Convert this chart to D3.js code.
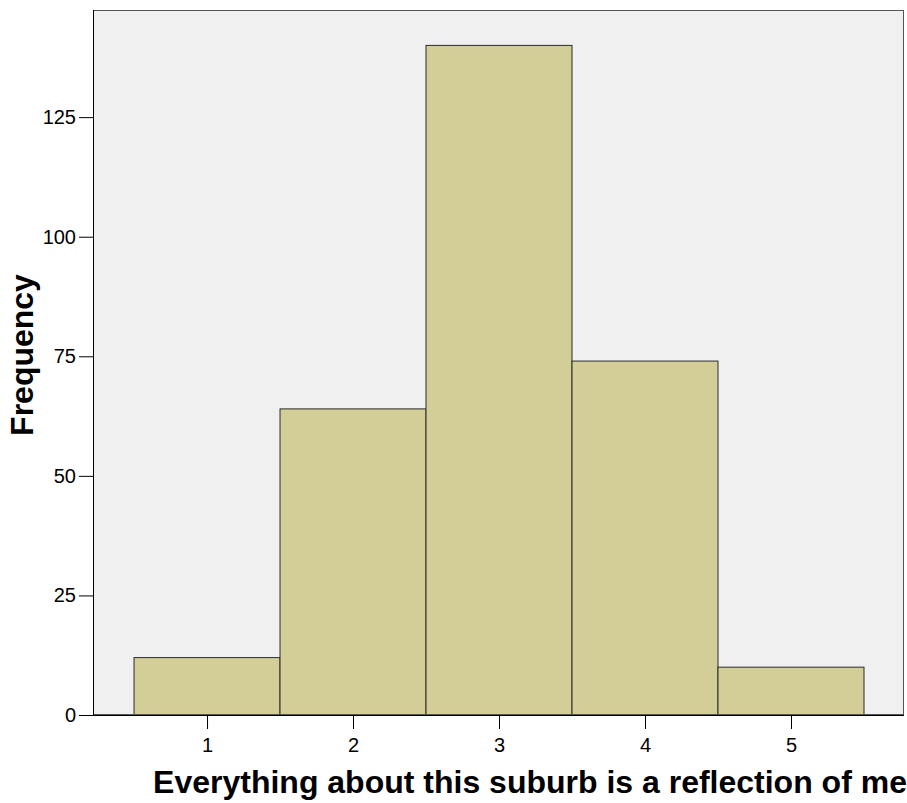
<!DOCTYPE html>
<html><head><meta charset="utf-8">
<script src="https://cdn.jsdelivr.net/npm/d3@7"></script>
<style>body{margin:0;background:#fff}svg{display:block}</style>
</head><body><svg id="c" width="907" height="803"></svg>
<script>
const categories = [1, 2, 3, 4, 5];
const frequencies = [12, 64, 140, 74, 10];
const yTicks = [0, 25, 50, 75, 100, 125];
const xTitle = "Everything about this suburb is a reflection of me";
const yTitle = "Frequency";

const svg = d3.select("#c");
const L = 93, R = 904, T = 10, B = 715;
const x = d3.scaleLinear().domain([0.219, 5.774]).range([L, R]);
const y = d3.scaleLinear().domain([0, 147.4]).range([B, T]);
const FONT = "Liberation Sans, Arial, sans-serif";

svg.append("rect").attr("x", L).attr("y", T).attr("width", R - L).attr("height", B - T)
  .attr("fill", "#f0f0f0").attr("stroke", "none");

svg.selectAll("rect.bar").data(categories).enter().append("rect").attr("class", "bar")
  .attr("x", d => x(d - 0.5)).attr("width", d => x(d + 0.5) - x(d - 0.5))
  .attr("y", (d, i) => y(frequencies[i])).attr("height", (d, i) => y(0) - y(frequencies[i]))
  .attr("fill", "#d3ce98").attr("stroke", "#2b2b2b").attr("stroke-width", 1);

// frame
svg.append("rect").attr("x", L + 0.5).attr("y", T + 0.5).attr("width", R - L - 1).attr("height", B - T - 1)
  .attr("fill", "none").attr("stroke", "#555").attr("stroke-width", 1);
svg.append("line").attr("x1", L).attr("x2", R).attr("y1", B + 0.5).attr("y2", B + 0.5).attr("stroke", "#000");
svg.append("line").attr("x1", L + 0.5).attr("x2", L + 0.5).attr("y1", T).attr("y2", B).attr("stroke", "#000");

const yAxis = d3.axisLeft(y).tickValues(yTicks).tickSize(14).tickPadding(3).tickFormat(d3.format("d"));
const gy = svg.append("g").attr("transform", `translate(${L},0)`).call(yAxis);
gy.select(".domain").remove();
gy.selectAll("line").attr("stroke", "#000");
gy.selectAll("text").attr("font-family", FONT).style("font-size", "20px").attr("fill", "#000");

const xAxis = d3.axisBottom(x).tickValues(categories).tickSize(14).tickPadding(9).tickFormat(d3.format("d"));
const gx = svg.append("g").attr("transform", `translate(0,${B})`).call(xAxis);
gx.select(".domain").remove();
gx.selectAll("line").attr("stroke", "#000");
gx.selectAll("text").attr("font-family", FONT).style("font-size", "20px").attr("fill", "#000");

svg.append("text").attr("x", 530).attr("y", 793).attr("text-anchor", "middle")
  .attr("font-family", FONT).attr("font-weight", "bold").style("font-size", "32px")
  .text(xTitle);
svg.append("text").attr("transform", "translate(33,355) rotate(-90)").attr("text-anchor", "middle")
  .attr("font-family", FONT).attr("font-weight", "bold").style("font-size", "32px")
  .text(yTitle);
</script></body></html>
